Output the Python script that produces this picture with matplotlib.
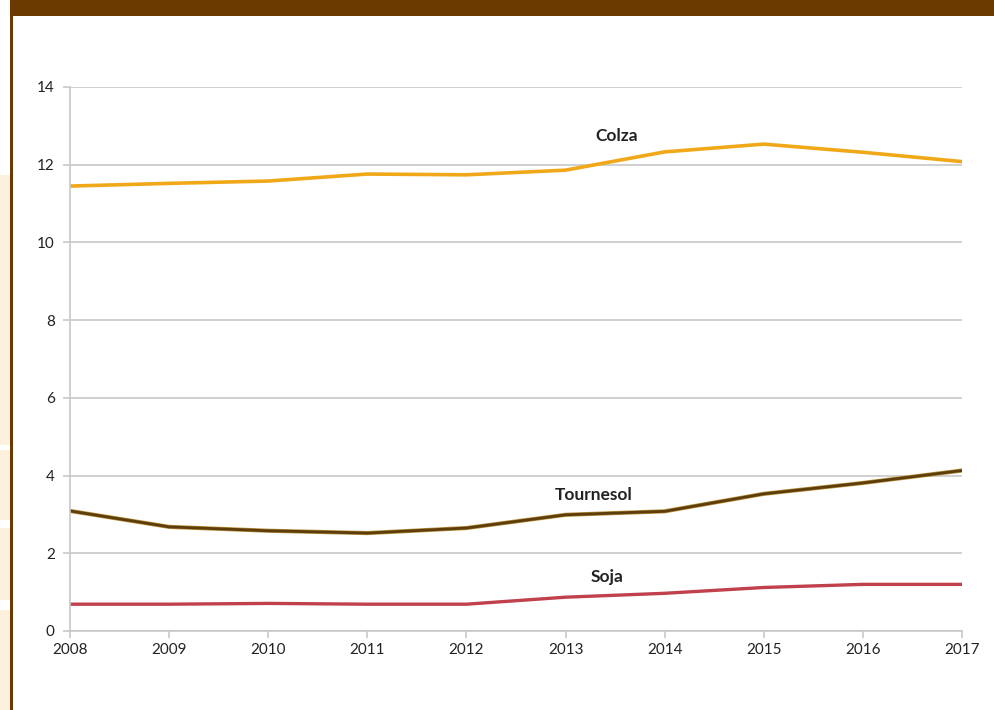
import matplotlib
matplotlib.use('Agg')
import matplotlib.pyplot as plt
from matplotlib.patches import Rectangle

# données
annees = [2008, 2009, 2010, 2011, 2012, 2013, 2014, 2015, 2016, 2017]
colza = [11.45, 11.52, 11.58, 11.76, 11.74, 11.86, 12.33, 12.53, 12.32, 12.08]
tournesol = [3.09, 2.68, 2.58, 2.52, 2.65, 2.99, 3.08, 3.53, 3.81, 4.13]
soja = [0.69, 0.69, 0.71, 0.69, 0.69, 0.87, 0.97, 1.12, 1.20, 1.20]
y_ticks = [0, 2, 4, 6, 8, 10, 12, 14]

W, H = 994, 710
fig = plt.figure(figsize=(W / 100, H / 100), dpi=100)
fig.patch.set_facecolor('white')

# bande de gauche (fond crème) + cadre marron
creme = '#fdf0dc'
for y0, y1 in [(175, 445), (450, 520), (528, 600), (610, 710)]:
    fig.add_artist(Rectangle((0, 1 - y1 / H), 10 / W, (y1 - y0) / H,
                             transform=fig.transFigure, color=creme, lw=0, zorder=0))
fig.add_artist(Rectangle((10 / W, 0), 3 / W, 1, transform=fig.transFigure,
                         color='#6b3a00', lw=0, zorder=1))
fig.add_artist(Rectangle((10 / W, 1 - 16 / H), 1, 16 / H, transform=fig.transFigure,
                         color='#6b3a00', lw=0, zorder=1))

ax = fig.add_axes([70 / W, 1 - 631 / H, (962 - 70) / W, (631 - 87) / H])
ax.set_facecolor('white')

ax.plot(annees, colza, color='#f0a818', lw=2.6, solid_capstyle='round')
ax.plot(annees, tournesol, color='#b89038', lw=3.0, solid_capstyle='round')
ax.plot(annees, tournesol, color='#5e3d0c', lw=2.0, solid_capstyle='round')
ax.plot(annees, soja, color='#c0404c', lw=2.4, solid_capstyle='round')

ax.set_xlim(2008, 2017)
ax.set_ylim(0, 14)
ax.set_xticks(annees)
ax.set_yticks(y_ticks)
ax.grid(axis='y', color='#c8c8c8', lw=1.2)
ax.set_axisbelow(True)

for s in ['top', 'right']:
    ax.spines[s].set_visible(False)
for s in ['left', 'bottom']:
    ax.spines[s].set_color('#c8c8c8')
    ax.spines[s].set_linewidth(1.2)

ax.tick_params(axis='both', colors='#c8c8c8', length=5, width=1.2,
               labelcolor='#222222', labelsize=11)
ax.tick_params(axis='x', pad=4)
ax.tick_params(axis='y', pad=6)
for lab in ax.get_xticklabels() + ax.get_yticklabels():
    lab.set_family('Lato')

kw = dict(ha='center', va='center', fontsize=12.5, fontweight='bold',
          family='Lato', color='#222222')
ax.text(2013.52, 12.75, 'Colza', **kw)
ax.text(2013.28, 3.5, 'Tournesol', **kw)
ax.text(2013.42, 1.38, 'Soja', **kw)

fig.savefig('out.png', dpi=100)
